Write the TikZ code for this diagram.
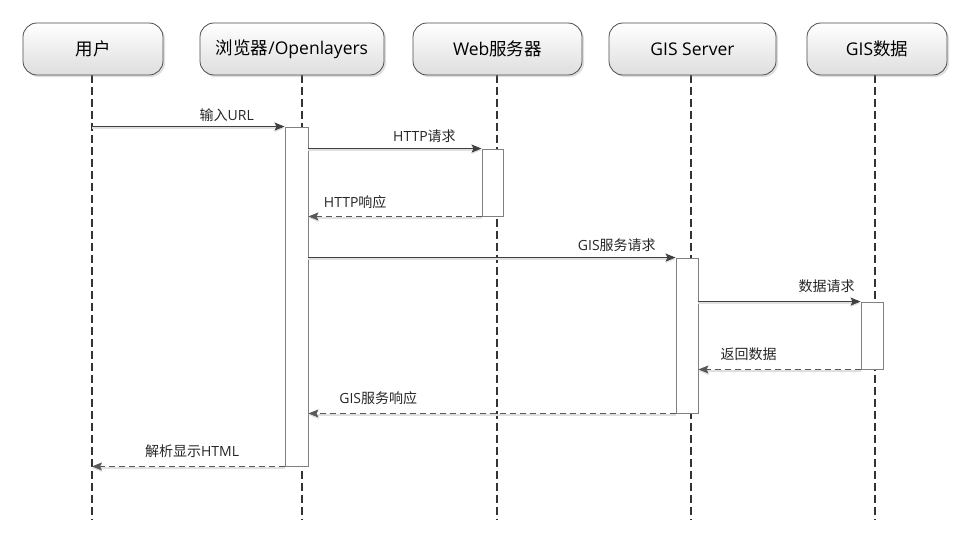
\documentclass[tikz,border=0pt]{standalone}
\usepackage{fontspec}
\setmainfont{Open Sans}
\newfontfamily\cjk{Noto Sans CJK SC}
\usetikzlibrary{arrows.meta,shadows,positioning}
\tikzset{
  actor/.style={draw=black!70, line width=.8pt, rounded corners=14pt, top color=white, bottom color=black!13,
    minimum height=52pt, inner sep=0pt, font=\fontsize{17.5}{20}\selectfont,
    drop shadow={shadow xshift=2pt, shadow yshift=-2pt, opacity=.25}},
  life/.style={draw=black!80, line width=1.1pt, dash pattern=on 8pt off 4pt},
  actbox/.style={draw=black!50, fill=white, line width=.9pt, inner sep=0pt},
  msg/.style={draw=black!75, line width=.9pt, -{Stealth[length=10pt,width=8pt,inset=2pt]},
    preaction={draw=black!12, line width=1.4pt, transform canvas={yshift=-1.5pt}}},
  ret/.style={msg, draw=black!65, dash pattern=on 6pt off 4pt},
  lbl/.style={font=\fontsize{14}{16}\selectfont, inner sep=0pt, text=black!85}
}
\begin{document}
\begin{tikzpicture}[x=1pt,y=-1pt]
\useasboundingbox (0,0) rectangle (966,535);
% lifelines
\coordinate (user-end) at (92,520);
\coordinate (browser-end) at (302,520);
\coordinate (web-end) at (497,520);
\coordinate (gis-end) at (691,520);
\coordinate (data-end) at (875,520);
\draw[life] (92,75) -- (user-end);
\draw[life] (302,75) -- (browser-end);
\draw[life] (497,75) -- (web-end);
\draw[life] (691,75) -- (gis-end);
\draw[life] (875,75) -- (data-end);
% actors
\node[actor, minimum width=140pt] (user) at (93,49) {{\cjk 用户}};
\node[actor, minimum width=184pt] (browser) at (292,49) {{\cjk 浏览器}/Openlayers};
\node[actor, minimum width=169pt] (web) at (497.5,49) {Web{\cjk 服务器}};
\node[actor, minimum width=167pt] (gis) at (692.5,49) {GIS Server};
\node[actor, minimum width=140pt] (data) at (877,49) {GIS{\cjk 数据}};
% activations
\node[actbox, minimum width=23pt, minimum height=339pt] (act-browser) at (296.5,296.5) {};
\node[actbox, minimum width=21pt, minimum height=67pt] (act-web) at (492.5,182.5) {};
\node[actbox, minimum width=22pt, minimum height=155pt] (act-gis) at (687,335.5) {};
\node[actbox, minimum width=22pt, minimum height=67pt] (act-data) at (872,335.5) {};
% messages
\draw[msg] (user-end |- act-browser.north) -- (act-browser.north west)
  node[lbl, pos=.7, above=4pt] {{\cjk 输入}URL};
\draw[msg] (act-browser.east |- act-web.north) -- (act-web.north west)
  node[lbl, pos=.67, above=5pt] {HTTP{\cjk 请求}};
\draw[ret] (act-web.south west) -- (act-browser.east |- act-web.south)
  node[lbl, pos=.73, above=7pt] {HTTP{\cjk 响应}};
\draw[msg] (act-browser.east |- act-gis.north) -- (act-gis.north west)
  node[lbl, pos=.84, above=5pt] {GIS{\cjk 服务请求}};
\draw[msg] (act-gis.east |- act-data.north) -- (act-data.north west)
  node[lbl, pos=.79, above=8pt] {{\cjk 数据请求}};
\draw[ret] (act-data.south west) -- (act-gis.east |- act-data.south)
  node[lbl, pos=.69, above=8pt] {{\cjk 返回数据}};
\draw[ret] (act-gis.south west) -- (act-browser.east |- act-gis.south)
  node[lbl, pos=.81, above=8pt] {GIS{\cjk 服务响应}};
\draw[ret] (act-browser.south west) -- (user-end |- act-browser.south)
  node[lbl, pos=.48, above=8pt] {{\cjk 解析显示}HTML};
\end{tikzpicture}
\end{document}
